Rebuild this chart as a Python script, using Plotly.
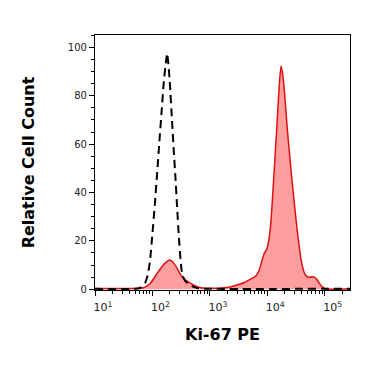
import plotly.graph_objects as go

# Isotype control (dashed black)
iso_x = [10, 50, 63, 74, 83, 91, 100, 110, 120, 132, 145, 158, 172, 180, 188,
         200, 219, 234, 251, 269, 288, 309, 331, 372, 437, 525, 631, 1000, 275000]
iso_y = [0.2, 0.2, 0.8, 2.5, 6, 12, 23, 35, 47, 61, 74, 86, 94, 97.5, 94,
         86, 70, 58, 46.5, 34, 22, 12, 6, 3.5, 2.0, 1.0, 0.4, 0.2, 0.2]

# Ki-67 PE stained (filled red)
ki_x = [10, 32, 63, 76, 93, 112, 135, 166, 200, 224, 257, 300, 355, 447, 562, 708,
        1000, 1585, 2239, 3162, 3981, 5012, 6310, 7244, 8128, 8913, 9772, 11220,
        12882, 14791, 16218, 17378, 19055, 22387, 26915, 33113, 39811, 45709,
        52481, 60256, 66069, 74131, 89125, 104713, 275000]
ki_y = [0.3, 0.3, 0.4, 1.0, 2.6, 5.4, 8.2, 10.8, 12.1, 11.4, 9.5, 6.6, 4.3, 2.6, 1.4, 0.6,
        0.4, 0.5, 0.9, 2.0, 2.8, 4.1, 5.5, 8.0, 12.1, 15, 16.5, 24.5,
        45, 68.6, 85, 92.3, 86.5, 65.8, 45, 24.5, 10.7, 6.0,
        5.0, 5.2, 5.0, 3.8, 1.1, 0.2, 0.2]

x_tickvals = [10, 100, 1000, 10000, 100000]
x_ticktext = ["10<sup>1</sup>", "10<sup>2</sup>", "10<sup>3</sup>", "10<sup>4</sup>", "10<sup>5</sup>"]
y_ticks = [0, 20, 40, 60, 80, 100]

fig = go.Figure()
fig.add_trace(go.Scatter(
    x=ki_x, y=ki_y, mode="lines", fill="tozeroy",
    fillcolor="rgba(255,120,120,0.72)",
    line=dict(color="#dd1111", width=1.5, shape="spline", smoothing=0.6),
    showlegend=False))
fig.add_trace(go.Scatter(
    x=iso_x, y=iso_y, mode="lines",
    line=dict(color="black", width=2, dash="8px,5px", shape="spline", smoothing=0.5),
    showlegend=False))

# page body has an 8px margin, so the figure is shrunk to keep the plot where the reference has it
fig.update_layout(
    width=363, height=358,
    margin=dict(l=87, r=21, t=27, b=76),
    paper_bgcolor="white", plot_bgcolor="white",
    font=dict(family="DejaVu Sans", size=10, color="#222"),
)
fig.update_xaxes(
    type="log", range=[1, 5.44], tickmode="array",
    tickvals=x_tickvals, ticktext=x_ticktext, automargin=False,
    showline=True, linecolor="black", linewidth=1.2, mirror=True,
    ticks="outside", ticklen=5, tickwidth=1.2, tickcolor="black",
    minor=dict(ticks="outside", ticklen=3, tickwidth=1, tickcolor="black", dtick="D1"),
    ticklabelshift=8, ticklabelstandoff=2,
    showgrid=False, zeroline=False,
    tickfont=dict(family="DejaVu Sans", size=11, color="#222"),
    title=dict(text="Ki-67 PE", font=dict(family="DejaVu Sans", size=16, color="black", weight="bold"), standoff=15),
)
fig.update_yaxes(
    range=[-0.3, 105.1], tickvals=y_ticks, automargin=False,
    showline=True, linecolor="black", linewidth=1.2, mirror=True,
    ticks="outside", ticklen=5, tickwidth=1.2, tickcolor="black",
    minor=dict(ticks="outside", ticklen=3, tickwidth=1, tickcolor="black", dtick=5),
    showgrid=False, zeroline=False,
    tickfont=dict(family="DejaVu Sans", size=10, color="#222"),
    title=dict(text="Relative Cell Count", font=dict(family="DejaVu Sans", size=16, color="black", weight="bold"), standoff=29),
)
fig.write_html("out.html")
